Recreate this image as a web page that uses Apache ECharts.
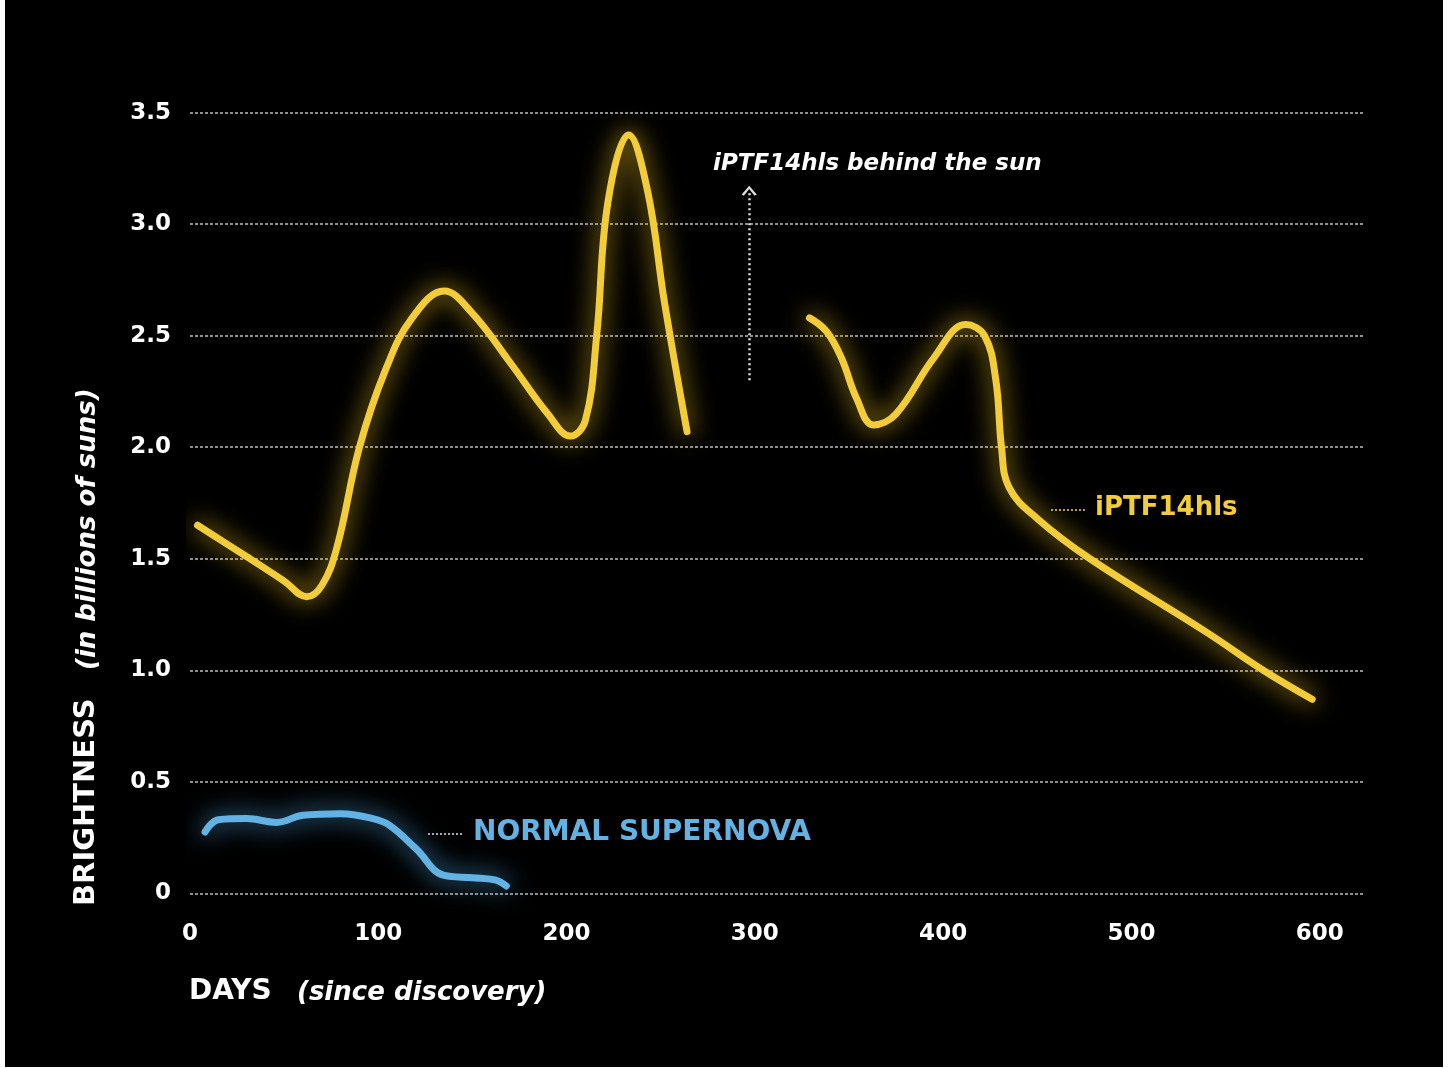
<!DOCTYPE html>
<html>
<head>
<meta charset="utf-8">
<script src="https://cdn.jsdelivr.net/npm/echarts@6/dist/echarts.min.js"></script>
<style>
  html, body { margin: 0; padding: 0; background: #fff; }
  #bg { position: absolute; left: 5px; top: 0; width: 1438px; height: 1067px; background: #000; }
  #chart { position: absolute; left: 0; top: 0; width: 1450px; height: 1068px; }
</style>
</head>
<body>
<div id="bg"></div>
<div id="chart"></div>
<script>
// ---- data (days since discovery, brightness in billions of suns) ----
const iptfDays1   = [4, 30, 50, 62, 70, 78, 90, 104, 118, 135, 150, 170, 190, 202, 210, 216, 222, 233, 243, 252, 264];
const iptfBright1 = [1.65, 1.51, 1.40, 1.33, 1.38, 1.55, 2.00, 2.35, 2.58, 2.70, 2.60, 2.38, 2.15, 2.05, 2.12, 2.50, 3.10, 3.40, 3.15, 2.65, 2.07];
const iptfDays2   = [329, 338, 346, 354, 363, 375, 395, 412, 422, 428, 431, 435, 450, 478, 540, 570, 596];
const iptfBright2 = [2.58, 2.52, 2.40, 2.22, 2.10, 2.15, 2.40, 2.55, 2.50, 2.30, 2.00, 1.82, 1.68, 1.50, 1.17, 1.00, 0.87];
const normalDays   = [8, 15, 30, 46, 60, 80, 97, 106, 120, 135, 150, 162, 168];
const normalBright = [0.275, 0.33, 0.335, 0.318, 0.35, 0.357, 0.335, 0.305, 0.20, 0.08, 0.07, 0.06, 0.033];
const yTicks = ['0', '0.5', '1.0', '1.5', '2.0', '2.5', '3.0', '3.5'];
const arrowDay = 297, arrowFrom = 2.3, arrowTo = 3.15;

const pairs = (xs, ys) => xs.map((x, i) => [x, ys[i]]);
const FONT = "'DejaVu Sans', sans-serif";
const YELLOW = '#f3cc3a';
const BLUE = '#62b3e3';

const chart = echarts.init(document.getElementById('chart'), null, { renderer: 'canvas' });

function glowLine(color, glow) {
  return { width: 7, color: color, cap: 'round', join: 'round', shadowBlur: 24, shadowColor: glow };
}

const option = {
  backgroundColor: 'transparent',
  animation: false,
  grid: { left: 190, right: 87, top: 112.7, bottom: 174.7, containLabel: false },
  xAxis: {
    type: 'value', min: 0, max: 623, interval: 100,
    axisLine: { show: false }, axisTick: { show: false }, splitLine: { show: false },
    axisLabel: {
      color: '#fff', fontFamily: FONT, fontWeight: 'bold', fontSize: 23, margin: 29,
      showMaxLabel: false,
      formatter: v => (v % 100 === 0 ? String(v) : '')
    }
  },
  yAxis: {
    type: 'value', min: 0, max: 3.5, interval: 0.5,
    axisLine: { show: false }, axisTick: { show: false },
    splitLine: { show: true, lineStyle: { color: 'rgba(190,190,190,0.75)', width: 2, type: [3, 2] } },
    axisLabel: {
      color: '#fff', fontFamily: FONT, fontWeight: 'bold', fontSize: 23, margin: 19,
      formatter: v => yTicks[Math.round(v / 0.5)]
    }
  },
  series: [
    {
      type: 'line', data: pairs(iptfDays1, iptfBright1), smooth: 0.4, clip: false,
      showSymbol: false, symbol: 'none', lineStyle: glowLine(YELLOW, 'rgba(240,195,30,1)'), z: 5,
      markLine: {
        silent: true, animation: false,
        symbol: ['none', 'path://M0,9 L6,0 L12,9 L10.3,10.2 L6,3.4 L1.7,10.2 Z'],
        symbolSize: [15, 10],
        label: { show: false },
        lineStyle: { type: [2, 3], color: '#e0e0e0', width: 2.5, shadowBlur: 0 },
        emphasis: { disabled: true },
        data: [[{ coord: [arrowDay, arrowFrom] }, { coord: [arrowDay, arrowTo] }]]
      }
    },
    {
      type: 'line', data: pairs(iptfDays2, iptfBright2), smooth: 0.4, clip: false,
      showSymbol: false, symbol: 'none', lineStyle: glowLine(YELLOW, 'rgba(240,195,30,1)'), z: 5
    },
    {
      type: 'line', data: pairs(normalDays, normalBright), smooth: 0.4, clip: false,
      showSymbol: false, symbol: 'none', lineStyle: glowLine(BLUE, 'rgba(80,170,230,1)'), z: 5
    }
  ],
  graphic: [
    {
      type: 'text', x: 189, y: 992,
      style: { text: 'DAYS', fill: '#fff', fontFamily: FONT, fontWeight: 'bold', fontSize: 28, verticalAlign: 'middle', align: 'left' }
    },
    {
      type: 'text', x: 297, y: 993,
      style: { text: '(since discovery)', fill: '#fff', fontFamily: FONT, fontStyle: 'italic', fontWeight: 'bold', fontSize: 26, verticalAlign: 'middle', align: 'left' }
    },
    {
      type: 'text', x: 86, y: 906, rotation: Math.PI / 2,
      style: { text: 'BRIGHTNESS', fill: '#fff', fontFamily: FONT, fontWeight: 'bold', fontSize: 29, verticalAlign: 'middle', align: 'left' }
    },
    {
      type: 'text', x: 88, y: 670, rotation: Math.PI / 2,
      style: { text: '(in billions of suns)', fill: '#fff', fontFamily: FONT, fontStyle: 'italic', fontWeight: 'bold', fontSize: 26, verticalAlign: 'middle', align: 'left' }
    },
    {
      type: 'text', x: 713, y: 164,
      style: { text: 'iPTF14hls behind the sun', fill: '#fff', fontFamily: FONT, fontStyle: 'italic', fontWeight: 'bold', fontSize: 23, verticalAlign: 'middle', align: 'left' }
    },
    {
      type: 'line', shape: { x1: 1051, y1: 510, x2: 1086, y2: 510 },
      style: { stroke: 'rgba(230,200,80,0.8)', lineWidth: 2, lineDash: [2, 2] }
    },
    {
      type: 'text', x: 1095, y: 508,
      style: { text: 'iPTF14hls', fill: YELLOW, fontFamily: FONT, fontWeight: 'bold', fontSize: 26, verticalAlign: 'middle', align: 'left' }
    },
    {
      type: 'line', shape: { x1: 428, y1: 834, x2: 462, y2: 834 },
      style: { stroke: 'rgba(200,220,235,0.8)', lineWidth: 2, lineDash: [2, 2] }
    },
    {
      type: 'text', x: 473, y: 833,
      style: { text: 'NORMAL SUPERNOVA', fill: BLUE, fontFamily: FONT, fontWeight: 'bold', fontSize: 28, verticalAlign: 'middle', align: 'left' }
    }
  ]
};
chart.setOption(option);
</script>
</body>
</html>
